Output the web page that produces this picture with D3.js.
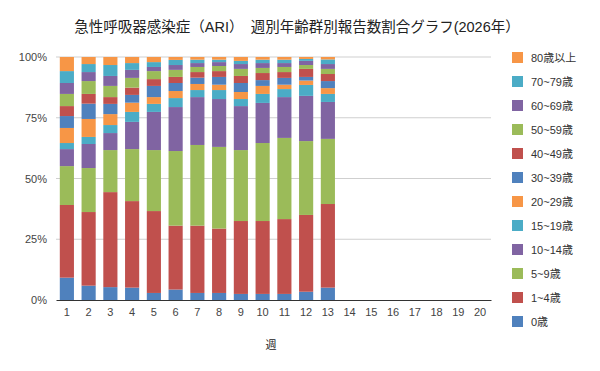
<!DOCTYPE html>
<html>
<head>
<meta charset="utf-8">
<script src="https://cdn.jsdelivr.net/npm/d3@7"></script>
<style>
  body { margin: 0; background: #fff; }
  text { font-family: "Liberation Sans", Arial, "Noto Sans CJK JP", sans-serif; }
</style>
</head>
<body>
<figure id="bar" style="margin:0"></figure>
<script>
const title = "急性呼吸器感染症（ARI）　週別年齢群別報告数割合グラフ(2026年）";
const weeks = d3.range(1, 21).map(String);
const ageGroups = ["0歳", "1~4歳", "5~9歳", "10~14歳", "15~19歳", "20~29歳",
  "30~39歳", "40~49歳", "50~59歳", "60~69歳", "70~79歳", "80歳以上"];
const colors = ["#4F81BD", "#C0504D", "#9BBB59", "#8064A2", "#4BACC6", "#F79646"];

// share (%) of each age group, weeks 1..13
const w01 = [9.2, 29.9, 16.0, 7.0, 2.5, 6.2, 4.9, 4.1, 5.0, 4.5, 4.9, 5.8];
const w02 = [5.9, 30.3, 18.1, 9.9, 2.9, 7.4, 6.3, 4.0, 5.3, 3.7, 3.3, 2.9];
const w03 = [5.3, 39.1, 17.3, 7.0, 3.3, 4.5, 4.2, 2.8, 4.6, 4.1, 4.5, 3.3];
const w04 = [5.1, 35.6, 21.4, 11.2, 4.1, 3.8, 3.2, 3.0, 4.0, 3.3, 2.8, 2.5];
const w05 = [2.9, 33.7, 25.1, 15.7, 3.3, 2.8, 4.6, 2.8, 3.3, 1.7, 2.0, 2.1];
const w06 = [4.3, 26.3, 30.7, 18.1, 3.7, 2.9, 3.3, 2.5, 2.9, 2.0, 2.1, 1.2];
const w07 = [2.9, 27.7, 33.2, 19.7, 2.9, 2.5, 2.6, 2.3, 2.1, 1.6, 1.4, 1.1];
const w08 = [2.9, 26.5, 33.6, 19.7, 3.7, 2.2, 3.2, 2.4, 2.1, 1.6, 1.0, 1.1];
const w09 = [2.5, 30.0, 29.2, 18.1, 2.9, 2.9, 3.7, 2.9, 2.9, 2.0, 1.3, 1.6];
const w10 = [2.5, 30.0, 32.1, 16.5, 3.7, 3.3, 2.4, 2.9, 2.1, 2.0, 1.4, 1.1];
const w11 = [2.5, 30.8, 33.4, 16.8, 3.3, 1.8, 2.8, 2.4, 2.1, 1.6, 1.4, 1.1];
const w12 = [3.4, 31.6, 30.4, 18.6, 4.5, 1.8, 1.5, 3.3, 1.6, 1.7, 0.8, 0.8];
const w13 = [5.1, 34.4, 26.8, 15.2, 3.3, 2.4, 2.9, 2.9, 2.1, 2.0, 1.9, 1.0];
const weekValues = [w01, w02, w03, w04, w05, w06, w07, w08, w09, w10, w11, w12, w13];
const yTicks = [0, 0.25, 0.5, 0.75, 1];

const width = 600, height = 371;
const margin = { top: 57, right: 109, bottom: 71, left: 56 };
const innerW = width - margin.left - margin.right;
const innerH = height - margin.top - margin.bottom;

const svg = d3.select("figure#bar").append("svg")
  .attr("width", width).attr("height", height);

svg.append("text")
  .attr("x", 297).attr("y", 32)
  .attr("text-anchor", "middle")
  .attr("font-size", 14.5)
  .attr("fill", "#222")
  .text(title);

const g = svg.append("g").attr("transform", `translate(${margin.left},${margin.top})`);

// normalized rows
const rows = weekValues.map((v, i) => {
  const total = d3.sum(v);
  const row = { week: weeks[i] };
  ageGroups.forEach((a, j) => row[a] = v[j] / total);
  return row;
});
const series = d3.stack().keys(ageGroups)(rows);

const x = d3.scaleBand().domain(weeks).range([0, innerW]).paddingInner(0.35).paddingOuter(0.175);
const y = d3.scaleLinear().domain([0, 1]).range([innerH, 0]);

// grid
g.append("g").selectAll("line")
  .data(yTicks.slice(1))
  .enter().append("line")
  .attr("x1", 0).attr("x2", innerW)
  .attr("y1", d => y(d)).attr("y2", d => y(d))
  .attr("stroke", "#cfcfcf").attr("stroke-width", 1);

// bars
g.append("g").selectAll("g")
  .data(series)
  .enter().append("g")
  .attr("fill", (d, i) => colors[i % colors.length])
  .selectAll("rect")
  .data(d => d)
  .enter().append("rect")
  .attr("x", d => x(d.data.week))
  .attr("y", d => y(d[1]))
  .attr("width", x.bandwidth())
  .attr("height", d => y(d[0]) - y(d[1]));

// y axis
const yAxis = g.append("g")
  .call(d3.axisLeft(y).tickValues(yTicks).tickFormat(d3.format(".0%")).tickSize(0).tickPadding(9));
yAxis.select(".domain").remove();
yAxis.selectAll("text").attr("font-size", 11).attr("fill", "#444");

// x axis
const xAxis = g.append("g")
  .attr("transform", `translate(0,${innerH})`)
  .call(d3.axisBottom(x).tickSize(0).tickPadding(8));
xAxis.select(".domain").attr("stroke", "#333");
xAxis.selectAll("text").attr("font-size", 11).attr("fill", "#444");

svg.append("text")
  .attr("x", 271).attr("y", 349)
  .attr("text-anchor", "middle")
  .attr("font-size", 11).attr("fill", "#222")
  .text("週");

// legend
const legend = svg.append("g").attr("transform", "translate(512,52)");
const items = legend.selectAll("g")
  .data(ageGroups.slice().reverse())
  .enter().append("g")
  .attr("transform", (d, i) => `translate(0,${i * 24})`);
items.append("rect")
  .attr("width", 11).attr("height", 11)
  .attr("fill", d => colors[ageGroups.indexOf(d) % colors.length]);
items.append("text")
  .attr("x", 19).attr("y", 10)
  .attr("font-size", 11).attr("fill", "#333")
  .text(d => d);
</script>
</body>
</html>
